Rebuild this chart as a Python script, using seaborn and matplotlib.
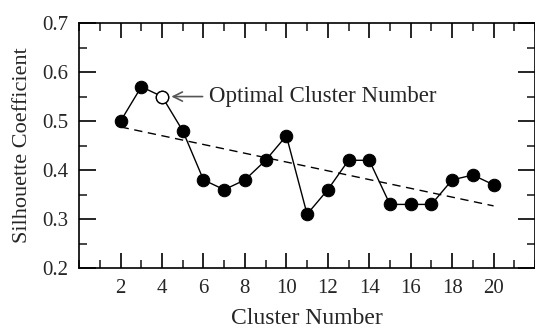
import numpy as np
import pandas as pd
import seaborn as sns
import matplotlib
matplotlib.use("Agg")
import matplotlib.pyplot as plt
from matplotlib.ticker import MultipleLocator

# cluster numbers and silhouette values
clusters = [2, 3, 4, 5, 6, 7, 8, 9, 10, 11, 12, 13, 14, 15, 16, 17, 18, 19, 20]
silhouette = [0.50, 0.57, 0.55, 0.48, 0.38, 0.36, 0.38, 0.42, 0.47, 0.31,
              0.36, 0.42, 0.42, 0.33, 0.33, 0.33, 0.38, 0.39, 0.37]
optimal_k = 4
trend_x = [2, 20]
trend_y = [0.488, 0.327]

sns.set_style("ticks")
plt.rcParams["font.family"] = ["Liberation Serif", "DejaVu Serif"]

df = pd.DataFrame({"k": clusters, "s": silhouette})

fig = plt.figure(figsize=(5.35, 3.29), dpi=100)
ax = fig.add_axes([0.148, 0.185, 0.852, 0.745])

sns.lineplot(data=df, x="k", y="s", ax=ax, color="black", linewidth=1.0,
             marker="o", markersize=9, markeredgecolor="black",
             markerfacecolor="black")
opt = df[df["k"] == optimal_k]
sns.scatterplot(data=opt, x="k", y="s", ax=ax, s=80, color="white",
                edgecolor="black", linewidth=1.0, zorder=5)
ax.plot(trend_x, trend_y, color="black", linestyle=(0, (6, 4)), linewidth=1.0)

ax.annotate("Optimal Cluster Number", xy=(optimal_k + 0.45, 0.55),
            xytext=(6.25, 0.55), fontsize=16.5, va="center",
            arrowprops=dict(arrowstyle="->", color="#555555", lw=1.2,
                            shrinkA=2, shrinkB=0))

ax.set_xlim(0, 22)
ax.set_ylim(0.2, 0.7)
ax.xaxis.set_minor_locator(MultipleLocator(1))
ax.yaxis.set_minor_locator(MultipleLocator(0.05))
ax.set_xticks(range(2, 21, 2))
ax.set_xticklabels([str(v) for v in range(2, 21, 2)])
ax.set_yticks([0.2, 0.3, 0.4, 0.5, 0.6, 0.7])
ax.set_yticklabels(["0.2", "0.3", "0.4", "0.5", "0.6", "0.7"])

ax.tick_params(which="major", direction="in", length=11, width=1.2,
               top=True, right=True, labelsize=15, color="black", pad=8)
ax.tick_params(which="minor", direction="in", length=6, width=1.2,
               top=True, right=True)
ax.tick_params(axis="y", which="major", length=12)

for sp in ax.spines.values():
    sp.set_linewidth(1.2)
    sp.set_color("black")

ax.set_xlabel("Cluster Number", fontsize=17, labelpad=7)
ax.set_ylabel("Silhouette Coefficient", fontsize=16, labelpad=7)

fig.savefig("out.png", dpi=100)
